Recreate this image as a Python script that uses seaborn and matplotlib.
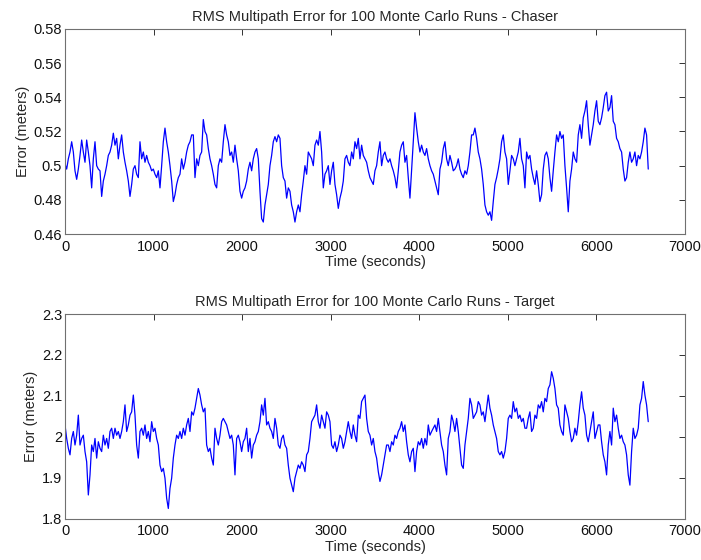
import numpy as np
import pandas as pd
import matplotlib
matplotlib.use("Agg")
import matplotlib.pyplot as plt
import seaborn as sns

chaser_error = [
    0.501, 0.498, 0.504, 0.508, 0.514, 0.508, 0.497, 0.492, 0.498, 0.506,
    0.515, 0.508, 0.502, 0.515, 0.508, 0.500, 0.487, 0.504, 0.514, 0.500,
    0.498, 0.497, 0.482, 0.491, 0.495, 0.500, 0.506, 0.508, 0.512, 0.519,
    0.512, 0.516, 0.504, 0.512, 0.518, 0.508, 0.502, 0.497, 0.491, 0.482,
    0.489, 0.498, 0.500, 0.495, 0.493, 0.514, 0.504, 0.508, 0.502, 0.506,
    0.502, 0.500, 0.497, 0.498, 0.495, 0.493, 0.497, 0.487, 0.500, 0.514,
    0.522, 0.514, 0.508, 0.500, 0.491, 0.479, 0.483, 0.489, 0.493, 0.495,
    0.504, 0.498, 0.502, 0.508, 0.512, 0.514, 0.518, 0.518, 0.493, 0.504,
    0.500, 0.506, 0.508, 0.527, 0.520, 0.518, 0.510, 0.504, 0.500, 0.495,
    0.489, 0.487, 0.500, 0.504, 0.502, 0.514, 0.524,
    # 1693 s onwards
    0.518, 0.514, 0.506, 0.508, 0.502, 0.512, 0.504, 0.497, 0.485, 0.481,
    0.485, 0.487, 0.491, 0.498, 0.502, 0.497, 0.504, 0.508, 0.510, 0.504,
    0.485, 0.469, 0.467, 0.477, 0.483, 0.489, 0.500, 0.506, 0.514, 0.517,
    0.514, 0.518, 0.516, 0.500, 0.493, 0.491, 0.481, 0.487, 0.485, 0.477,
    0.473, 0.467, 0.473, 0.477, 0.473, 0.483, 0.491, 0.500, 0.495, 0.508,
    0.506, 0.504, 0.500, 0.512, 0.515, 0.512, 0.520, 0.508, 0.487, 0.495,
    0.497, 0.500, 0.489, 0.497, 0.502, 0.489, 0.483, 0.475, 0.481, 0.485,
    0.491, 0.504, 0.506, 0.502, 0.500, 0.508, 0.504, 0.514, 0.510, 0.516,
    0.504, 0.512, 0.506, 0.504, 0.502, 0.497, 0.493, 0.491, 0.489, 0.497,
    0.500, 0.508, 0.514,
    # 3450 s onwards
    0.500, 0.506, 0.508, 0.504, 0.502, 0.504, 0.500, 0.497, 0.493, 0.487,
    0.497, 0.508, 0.512, 0.514, 0.502, 0.506, 0.493, 0.481, 0.497, 0.514,
    0.531, 0.522, 0.514, 0.508, 0.512, 0.508, 0.506, 0.510, 0.504, 0.500,
    0.497, 0.495, 0.491, 0.487, 0.483, 0.498, 0.502, 0.510, 0.514, 0.504,
    0.500, 0.506, 0.502, 0.497, 0.498, 0.500, 0.504, 0.498, 0.495, 0.493,
    0.497, 0.495, 0.500, 0.508, 0.518, 0.518, 0.522, 0.516, 0.508, 0.504,
    0.498, 0.489, 0.477, 0.473, 0.471, 0.473, 0.468, 0.479, 0.489, 0.493,
    0.498, 0.504, 0.514, 0.518, 0.508, 0.504, 0.489, 0.497, 0.506, 0.504,
    0.500, 0.504, 0.508, 0.516, 0.504, 0.500, 0.487,
    # 5210 s onwards
    0.508, 0.504, 0.506, 0.498, 0.493, 0.489, 0.497, 0.489, 0.479, 0.483,
    0.498, 0.506, 0.508, 0.504, 0.493, 0.485, 0.497, 0.508, 0.518, 0.514,
    0.520, 0.516, 0.518, 0.500, 0.487, 0.473, 0.491, 0.498, 0.508, 0.504,
    0.502, 0.518, 0.524, 0.516, 0.528, 0.532, 0.538, 0.524, 0.512, 0.518,
    0.524, 0.532, 0.538, 0.526, 0.524, 0.528, 0.534, 0.541, 0.543, 0.532,
    0.534, 0.541, 0.526, 0.524, 0.516, 0.514, 0.510, 0.508, 0.498, 0.491,
    0.493, 0.502, 0.508, 0.502, 0.504, 0.508, 0.500, 0.506, 0.504, 0.508,
    0.514, 0.522, 0.518, 0.498,
]

target_error = [
    2.029, 1.996, 1.972, 1.956, 1.996, 2.013, 1.980, 2.004, 2.053, 1.980,
    1.996, 2.004, 1.964, 1.939, 1.858, 1.907, 1.980, 1.964, 1.996, 1.948,
    1.988, 1.972, 1.964, 2.004, 1.980, 1.996, 1.972, 2.013, 2.021, 1.996,
    2.021, 2.004, 2.013, 1.996, 2.013, 2.037, 2.078, 2.013, 2.029, 2.053,
    2.061, 2.102, 2.053, 1.980, 1.948, 2.013, 2.021, 2.004, 2.029, 1.996,
    2.013, 1.988, 2.037, 2.013, 2.021, 1.996, 1.980, 1.931, 1.915, 1.923,
    1.899, 1.850, 1.825, 1.874, 1.899, 1.948, 1.980, 2.004, 1.996, 2.013,
    1.996, 2.021, 2.004, 2.029, 2.045, 2.013, 2.061, 2.053, 2.070, 2.094,
    2.118, 2.102, 2.078, 2.061, 2.070, 1.980, 1.964, 1.972, 1.948, 1.931,
    2.021, 1.996, 1.980, 2.004, 2.037, 2.045, 2.037,
    # 1693 s onwards
    2.029, 2.013, 1.996, 2.004, 1.980, 1.907, 1.996, 2.004, 1.988, 1.964,
    1.988, 1.996, 2.021, 1.964, 1.996, 1.948, 1.980, 1.988, 2.004, 2.013,
    2.037, 2.078, 2.053, 2.094, 2.029, 2.037, 2.021, 2.013, 1.996, 2.045,
    2.021, 1.980, 1.972, 1.996, 2.004, 1.980, 1.972, 1.931, 1.899, 1.882,
    1.866, 1.899, 1.915, 1.931, 1.923, 1.939, 1.931, 1.915, 1.956, 1.964,
    1.996, 2.037, 2.045, 2.053, 2.078, 2.037, 2.021, 2.053, 2.037, 2.021,
    2.061, 2.053, 2.037, 1.980, 1.972, 1.988, 1.964, 1.980, 2.004, 1.996,
    1.972, 1.988, 2.013, 2.037, 2.013, 1.996, 2.029, 2.004, 1.988, 2.053,
    2.045, 2.086, 2.094, 2.102, 2.045, 2.013, 2.004, 1.980, 1.996, 1.964,
    1.948, 1.915, 1.891,
    # 3450 s onwards
    1.907, 1.931, 1.956, 1.980, 1.980, 1.964, 1.988, 1.980, 2.004, 1.996,
    2.013, 2.021, 2.037, 2.013, 2.029, 1.988, 1.956, 1.939, 1.964, 1.972,
    1.915, 1.964, 1.988, 1.980, 1.996, 1.972, 1.996, 1.980, 2.029, 2.004,
    2.013, 2.021, 2.029, 2.013, 2.045, 2.013, 1.980, 1.964, 1.931, 1.907,
    1.996, 2.013, 2.053, 2.037, 2.013, 2.045, 2.013, 1.972, 1.931, 1.923,
    1.980, 2.013, 2.045, 2.094, 2.078, 2.045, 2.053, 2.061, 2.086, 2.078,
    2.053, 2.061, 2.037, 2.070, 2.102, 2.070, 2.053, 2.029, 2.013, 1.996,
    1.964, 1.956, 1.964, 1.948, 1.964, 1.996, 2.045, 2.053, 2.045, 2.086,
    2.061, 2.070, 2.045, 2.053, 2.037, 2.045, 2.021,
    # 5210 s onwards
    2.021, 2.045, 2.061, 2.013, 2.021, 2.053, 2.045, 2.078, 2.070, 2.086,
    2.061, 2.094, 2.086, 2.118, 2.127, 2.159, 2.143, 2.118, 2.078, 2.070,
    2.029, 2.013, 2.004, 2.078, 2.061, 2.045, 2.013, 1.988, 1.996, 2.021,
    2.004, 2.037, 2.078, 2.110, 2.070, 2.053, 2.004, 1.988, 2.013, 2.037,
    2.061, 1.996, 2.013, 2.029, 2.029, 1.988, 1.956, 1.939, 1.907, 1.980,
    2.013, 1.980, 2.070, 2.037, 2.053, 2.021, 1.996, 2.004, 1.988, 1.980,
    1.956, 1.907, 1.882, 1.964, 2.021, 1.996, 2.004, 2.021, 2.078, 2.094,
    2.135, 2.102, 2.078, 2.037,
]

t_end = 6585.0
time_s = np.linspace(0.0, t_end, len(chaser_error))

titles = ["RMS Multipath Error for 100 Monte Carlo Runs - Chaser",
          "RMS Multipath Error for 100 Monte Carlo Runs - Target"]
xticks = [0, 1000, 2000, 3000, 4000, 5000, 6000, 7000]
yticks_top = [0.46, 0.48, 0.50, 0.52, 0.54, 0.56, 0.58]
ytick_labels_top = ["0.46", "0.48", "0.5", "0.52", "0.54", "0.56", "0.58"]
yticks_bot = [1.8, 1.9, 2.0, 2.1, 2.2, 2.3]
ytick_labels_bot = ["1.8", "1.9", "2", "2.1", "2.2", "2.3"]

sns.set_style("white")
plt.rcParams["font.family"] = ["Liberation Sans", "DejaVu Sans"]

df = pd.DataFrame({"time": time_s, "chaser": chaser_error, "target": target_error})

fig = plt.figure(figsize=(7.01, 5.60), dpi=100)
ax1 = fig.add_axes([65/701, 1-234/560, 620/701, 205/560])
ax2 = fig.add_axes([65/701, 1-518.7/560, 620/701, 204.7/560])

specs = [
    (ax1, "chaser", titles[0], (0.46, 0.58), yticks_top, ytick_labels_top),
    (ax2, "target", titles[1], (1.8, 2.3), yticks_bot, ytick_labels_bot),
]
for ax, col, title, ylim, yt, ytl in specs:
    sns.lineplot(data=df, x="time", y=col, ax=ax, color="#0000ff",
                 linewidth=0.9, estimator=None)
    ax.set_xlim(0, 7000)
    ax.set_ylim(*ylim)
    ax.set_xticks(xticks)
    ax.set_xticklabels([str(v) for v in xticks])
    ax.set_yticks(yt)
    ax.set_yticklabels(ytl)
    ax.set_title(title, fontsize=10.5, pad=6)
    ax.set_xlabel("Time (seconds)", fontsize=10.5, labelpad=1)
    ax.set_ylabel("Error (meters)", fontsize=10.5, labelpad=3)
    ax.tick_params(direction="in", length=4, width=0.6, labelsize=10.5,
                   top=True, right=True, colors="#111111", pad=2)
    ax.tick_params(axis="x", pad=4)
    for s in ax.spines.values():
        s.set_visible(True)
        s.set_color("#707070")
        s.set_linewidth(0.8)

fig.savefig("out.png", dpi=100, facecolor="white")
